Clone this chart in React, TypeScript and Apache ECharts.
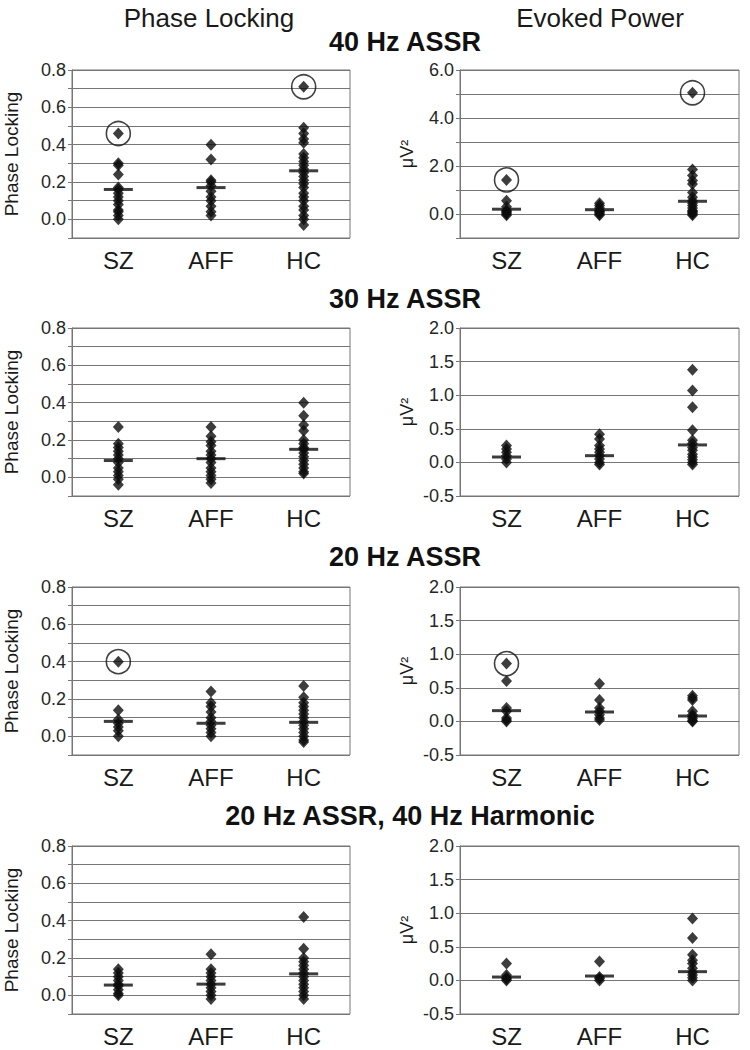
import React, { useEffect, useRef } from "react";
import * as echarts from "echarts";

// ---------------- DATA ----------------
const categories = ["SZ", "AFF", "HC"];
const rowTitles = ["40 Hz ASSR", "30 Hz ASSR", "20 Hz ASSR", "20 Hz ASSR, 40 Hz Harmonic"];
const columnTitles = ["Phase Locking", "Evoked Power"];
const plAxisName = "Phase Locking";
const epAxisName = "μV²";

// tick labels
const plTickLabels = [0.0, 0.2, 0.4, 0.6, 0.8];
const ep40TickLabels = [0, 2, 4, 6];
const epTickLabels = [-0.5, 0.0, 0.5, 1.0, 1.5, 2.0];

// 40 Hz ASSR - phase locking
const pl40 = [
  [0.46, 0.30, 0.29, 0.24, 0.17, 0.16, 0.14, 0.12, 0.10, 0.08, 0.05, 0.04, 0.02, 0.00],
  [0.40, 0.32, 0.21, 0.20, 0.18, 0.15, 0.12, 0.10, 0.07, 0.04, 0.02],
  [0.71, 0.49, 0.46, 0.43, 0.41, 0.35, 0.33, 0.31, 0.29, 0.27, 0.25, 0.23, 0.21, 0.19, 0.17, 0.14, 0.12, 0.10, 0.07, 0.05, 0.02, 0.00, -0.03],
];
const pl40Mean = [0.16, 0.17, 0.26];
const pl40Circled = [0.46, null, 0.71];

// 40 Hz ASSR - evoked power
const ep40 = [
  [1.42, 0.55, 0.30, 0.15, 0.10, 0.05, 0.00, -0.05],
  [0.45, 0.35, 0.25, 0.15, 0.10, 0.05, 0.00, -0.05],
  [5.05, 1.85, 1.60, 1.40, 1.25, 0.90, 0.70, 0.55, 0.45, 0.35, 0.25, 0.15, 0.10, 0.05, 0.00, -0.05],
];
const ep40Mean = [0.20, 0.18, 0.53];
const ep40Circled = [1.42, null, 5.05];

// 30 Hz ASSR - phase locking
const pl30 = [
  [0.27, 0.18, 0.16, 0.14, 0.12, 0.10, 0.08, 0.05, 0.03, 0.01, -0.01, -0.04],
  [0.27, 0.22, 0.19, 0.17, 0.14, 0.12, 0.10, 0.08, 0.05, 0.03, 0.01, -0.01, -0.03],
  [0.40, 0.33, 0.28, 0.25, 0.20, 0.18, 0.16, 0.15, 0.13, 0.11, 0.09, 0.07, 0.05, 0.03, 0.02],
];
const pl30Mean = [0.09, 0.10, 0.15];
const pl30Circled = [null, null, null];

// 30 Hz ASSR - evoked power
const ep30 = [
  [0.25, 0.20, 0.15, 0.10, 0.05, 0.00],
  [0.42, 0.35, 0.25, 0.20, 0.15, 0.10, 0.05, 0.00, -0.03],
  [1.38, 1.07, 0.82, 0.48, 0.33, 0.28, 0.22, 0.18, 0.12, 0.08, 0.04, 0.00, -0.03],
];
const ep30Mean = [0.08, 0.10, 0.26];
const ep30Circled = [null, null, null];

// 20 Hz ASSR - phase locking
const pl20 = [
  [0.40, 0.14, 0.09, 0.07, 0.05, 0.03, 0.00],
  [0.24, 0.18, 0.16, 0.13, 0.10, 0.08, 0.06, 0.04, 0.02, 0.00],
  [0.27, 0.21, 0.18, 0.16, 0.14, 0.12, 0.10, 0.08, 0.06, 0.04, 0.02, 0.00, -0.02, -0.03],
];
const pl20Mean = [0.08, 0.07, 0.075];
const pl20Circled = [0.40, null, null];

// 20 Hz ASSR - evoked power
const ep20 = [
  [0.86, 0.60, 0.20, 0.15, 0.05, 0.02, 0.00],
  [0.56, 0.32, 0.20, 0.15, 0.10, 0.05, 0.02],
  [0.38, 0.35, 0.32, 0.15, 0.10, 0.07, 0.04, 0.01, 0.00],
];
const ep20Mean = [0.16, 0.14, 0.08];
const ep20Circled = [0.86, null, null];

// 20 Hz ASSR, 40 Hz harmonic - phase locking
const plH = [
  [0.14, 0.12, 0.10, 0.08, 0.06, 0.05, 0.03, 0.01, 0.00],
  [0.22, 0.14, 0.12, 0.10, 0.08, 0.06, 0.04, 0.02, 0.00, -0.02],
  [0.42, 0.25, 0.20, 0.18, 0.16, 0.14, 0.12, 0.10, 0.08, 0.06, 0.04, 0.02, 0.00, -0.02],
];
const plHMean = [0.055, 0.06, 0.115];
const plHCircled = [null, null, null];

// 20 Hz ASSR, 40 Hz harmonic - evoked power
const epH = [
  [0.25, 0.08, 0.04, 0.02, 0.00],
  [0.28, 0.05, 0.03, 0.00],
  [0.92, 0.63, 0.38, 0.30, 0.25, 0.18, 0.12, 0.08, 0.04, 0.00],
];
const epHMean = [0.05, 0.065, 0.13];
const epHCircled = [null, null, null];

// ---------------- LAYOUT ----------------
const LEFT_X = 72;
const LEFT_W = 278;
const RIGHT_X = 460;
const RIGHT_W = 279;
const ROW_TOPS = [70, 328, 587, 846];
const ROW_H = 168;
const TITLE_Y = [42, 299, 557, 816];

const FONT = "'Liberation Sans', Arial, sans-serif";
const INK = "#1a1a1a";
const GRID_GREY = "#767676";

type Panel = {
  points: number[][];
  means: number[];
  circled: (number | null)[];
  kind: "pl" | "ep40" | "ep";
};

const panels: Panel[][] = [
  [
    { points: pl40, means: pl40Mean, circled: pl40Circled, kind: "pl" },
    { points: ep40, means: ep40Mean, circled: ep40Circled, kind: "ep40" },
  ],
  [
    { points: pl30, means: pl30Mean, circled: pl30Circled, kind: "pl" },
    { points: ep30, means: ep30Mean, circled: ep30Circled, kind: "ep" },
  ],
  [
    { points: pl20, means: pl20Mean, circled: pl20Circled, kind: "pl" },
    { points: ep20, means: ep20Mean, circled: ep20Circled, kind: "ep" },
  ],
  [
    { points: plH, means: plHMean, circled: plHCircled, kind: "pl" },
    { points: epH, means: epHMean, circled: epHCircled, kind: "ep" },
  ],
];

function yAxisFor(kind: Panel["kind"], gridIndex: number) {
  const common: any = {
    type: "value",
    gridIndex,
    nameLocation: "middle",
    axisLine: { show: true, lineStyle: { color: GRID_GREY, width: 1 } },
    axisTick: { show: true, length: 4, lineStyle: { color: GRID_GREY } },
    splitLine: { show: true, lineStyle: { color: GRID_GREY, width: 1 } },
    axisLabel: { color: "#262626", fontSize: 18, fontFamily: FONT, margin: 6 },
  };
  if (kind === "pl") {
    return {
      ...common,
      min: -0.1,
      max: 0.8,
      interval: 0.1,
      name: plAxisName,
      nameGap: 51,
      nameTextStyle: { fontSize: 19, color: INK, fontFamily: FONT },
      axisLabel: {
        ...common.axisLabel,
        formatter: (v: number) => {
          const hit = plTickLabels.find((t) => Math.abs(t - v) < 1e-6);
          return hit === undefined ? "" : hit.toFixed(1);
        },
      },
    };
  }
  if (kind === "ep40") {
    return {
      ...common,
      min: -1,
      max: 6,
      interval: 1,
      name: epAxisName,
      nameGap: 44,
      nameTextStyle: { fontSize: 18, color: INK, fontFamily: FONT },
      axisLabel: {
        ...common.axisLabel,
        formatter: (v: number) => {
          const hit = ep40TickLabels.find((t) => Math.abs(t - v) < 1e-6);
          return hit === undefined ? "" : hit.toFixed(1);
        },
      },
    };
  }
  return {
    ...common,
    min: -0.5,
    max: 2,
    interval: 0.5,
    name: epAxisName,
    nameGap: 44,
    nameTextStyle: { fontSize: 18, color: INK, fontFamily: FONT },
    axisLabel: {
      ...common.axisLabel,
      formatter: (v: number) => {
        const hit = epTickLabels.find((t) => Math.abs(t - v) < 1e-6);
        return hit === undefined ? "" : hit.toFixed(1);
      },
    },
  };
}

function buildOption() {
  const grid: any[] = [];
  const xAxis: any[] = [];
  const yAxis: any[] = [];
  const series: any[] = [];

  panels.forEach((row, r) => {
    row.forEach((p, c) => {
      const gi = grid.length;
      grid.push({
        left: c === 0 ? LEFT_X : RIGHT_X,
        top: ROW_TOPS[r],
        width: c === 0 ? LEFT_W : RIGHT_W,
        height: ROW_H,
        show: true,
        borderColor: GRID_GREY,
        borderWidth: 1,
        backgroundColor: "transparent",
      });
      xAxis.push({
        type: "category",
        gridIndex: gi,
        data: categories,
        boundaryGap: true,
        axisLine: { show: true, lineStyle: { color: GRID_GREY } },
        axisTick: { show: false },
        splitLine: { show: false },
        axisLabel: { color: INK, fontSize: 24, fontFamily: FONT, margin: 10 },
      });
      yAxis.push(yAxisFor(p.kind, gi));

      const pts: any[] = [];
      p.points.forEach((vals, ci) => vals.forEach((v) => pts.push([ci, v])));
      series.push({
        type: "scatter",
        xAxisIndex: gi,
        yAxisIndex: gi,
        data: pts,
        symbol: "diamond",
        symbolSize: [11, 12],
        itemStyle: { color: "#0d0d0d" },
        z: 3,
      });
      series.push({
        type: "scatter",
        xAxisIndex: gi,
        yAxisIndex: gi,
        data: p.means.map((m, ci) => [ci, m]),
        symbol: "rect",
        symbolSize: [29, 3],
        itemStyle: { color: "#0d0d0d" },
        z: 4,
      });
      const circ = p.circled
        .map((v, ci) => (v === null ? null : [ci, v]))
        .filter((d) => d !== null);
      if (circ.length) {
        series.push({
          type: "scatter",
          xAxisIndex: gi,
          yAxisIndex: gi,
          data: circ,
          symbol: "circle",
          symbolSize: 24,
          itemStyle: { color: "rgba(0,0,0,0)", borderColor: "#111", borderWidth: 1.6 },
          z: 5,
        });
      }
    });
  });

  const graphic: any[] = [
    {
      type: "text",
      x: 209,
      y: 18,
      style: { text: columnTitles[0], font: `26px ${FONT}`, fill: INK, align: "center", verticalAlign: "middle", textAlign: "center", textVerticalAlign: "middle" },
    },
    {
      type: "text",
      x: 600,
      y: 18,
      style: { text: columnTitles[1], font: `26px ${FONT}`, fill: INK, align: "center", verticalAlign: "middle", textAlign: "center", textVerticalAlign: "middle" },
    },
  ];
  rowTitles.forEach((t, r) => {
    graphic.push({
      type: "text",
      x: r === 3 ? 410 : 405,
      y: TITLE_Y[r],
      style: { text: t, font: `bold 27px ${FONT}`, fill: "#111", align: "center", verticalAlign: "middle", textAlign: "center", textVerticalAlign: "middle" },
    });
  });

  return {
    animation: false,
    backgroundColor: "#ffffff",
    textStyle: { fontFamily: FONT },
    grid,
    xAxis,
    yAxis,
    series,
    graphic,
  };
}

export default function App() {
  const ref = useRef<HTMLDivElement>(null);
  useEffect(() => {
    if (!ref.current) return;
    const chart = echarts.init(ref.current, undefined, { renderer: "svg" });
    chart.setOption(buildOption() as any);
    return () => chart.dispose();
  }, []);
  return (
    <div
      ref={ref}
      style={{ position: "absolute", left: 0, top: 0, width: 750, height: 1050, background: "#fff" }}
    />
  );
}
